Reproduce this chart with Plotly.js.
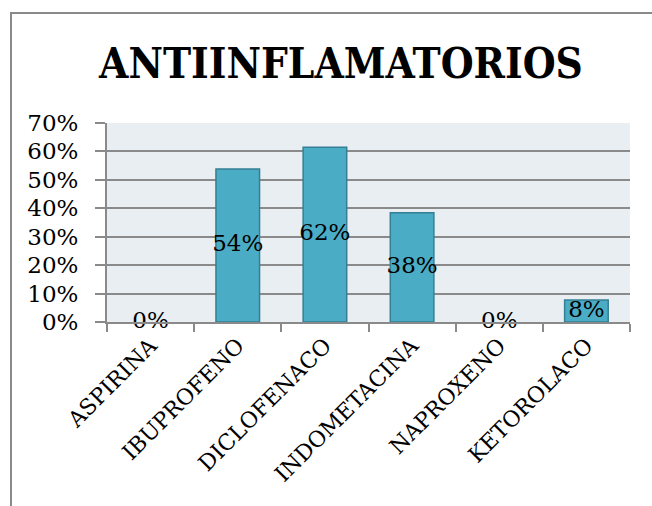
<!DOCTYPE html>
<html>
<head>
<meta charset="utf-8">
<script src="https://cdn.plot.ly/plotly-3.0.1.min.js"></script>
<style>
  html, body { margin: 0; padding: 0; background: #ffffff; }
  #wrap { position: relative; width: 652px; height: 506px; overflow: hidden; }
  #chart { position: absolute; left: 0; top: 0; width: 652px; height: 506px; }
  #frame { position: absolute; left: 10px; top: 12px; width: 700px; height: 600px;
           border-left: 2px solid #8a8a8a; border-top: 2px solid #8a8a8a; pointer-events: none; }
</style>
</head>
<body>
<div id="wrap">
  <div id="chart"></div>
  <div id="frame"></div>
</div>
<script>
const categories = ["ASPIRINA", "IBUPROFENO", "DICLOFENACO", "INDOMETACINA", "NAPROXENO", "KETOROLACO"];
const values = [0, 0.538, 0.615, 0.3846, 0, 0.077];
const yTickVals = [0, 0.1, 0.2, 0.3, 0.4, 0.5, 0.6, 0.7];
const yTickText = ["0%", "10%", "20%", "30%", "40%", "50%", "60%", "70%"];
const titleText = "ANTIINFLAMATORIOS";

const serif = "DejaVu Serif, Liberation Serif, serif";

const bars = {
  type: "bar",
  x: categories,
  y: values,
  marker: { color: "#4BACC6", line: { color: "#357F94", width: values.map(v => v > 0 ? 1.5 : 0) } },
  hoverinfo: "skip",
  showlegend: false
};

const labels = {
  type: "scatter",
  mode: "text",
  x: categories,
  y: values.map(v => v / 2),
  text: values.map(v => Math.round(v * 100) + "%"),
  textposition: "middle center",
  textfont: { family: serif, size: 23, color: "#000000" },
  hoverinfo: "skip",
  showlegend: false,
  cliponaxis: false
};

const layout = {
  width: 652,
  height: 506,
  margin: { l: 107, r: 22, t: 123, b: 184 },
  paper_bgcolor: "rgba(0,0,0,0)",
  plot_bgcolor: "#E8EEF2",
  bargap: 0.5,
  title: {
    text: "<b>" + titleText + "</b>",
    font: { family: "DejaVu Serif Condensed, DejaVu Serif, serif", size: 42, color: "#000000" },
    xref: "container", x: 341 / 652, xanchor: "center",
    yref: "container", y: 1 - 63 / 506, yanchor: "middle"
  },
  xaxis: {
    type: "category",
    tickangle: -45,
    tickfont: { family: serif, size: 22, color: "#000000" },
    ticks: "outside",
    tickson: "boundaries",
    ticklen: 8,
    tickwidth: 2,
    tickcolor: "#8a8a8a",
    showline: true,
    linecolor: "#8a8a8a",
    linewidth: 2,
    showgrid: false,
    fixedrange: true
  },
  yaxis: {
    range: [0, 0.7],
    tickvals: yTickVals,
    ticktext: yTickText,
    tickfont: { family: serif, size: 23, color: "#000000" },
    ticks: "outside",
    ticklen: 10,
    tickwidth: 2,
    tickcolor: "#8a8a8a",
    ticklabelstandoff: 12,
    showline: true,
    linecolor: "#8a8a8a",
    linewidth: 2,
    showgrid: true,
    gridcolor: "#8a8a8a",
    gridwidth: 2,
    zeroline: false,
    fixedrange: true
  }
};

Plotly.newPlot("chart", [bars, labels], layout, { staticPlot: true, displayModeBar: false });
</script>
</body>
</html>
